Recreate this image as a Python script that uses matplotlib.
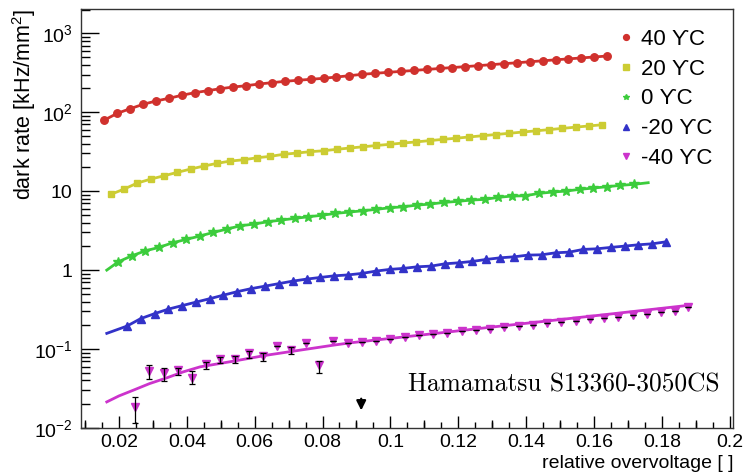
import numpy as np
import matplotlib
matplotlib.use("Agg")
import matplotlib.pyplot as plt
from matplotlib.ticker import FuncFormatter, LogLocator, NullFormatter, MultipleLocator

plt.rcParams["font.family"] = ["Liberation Sans", "DejaVu Sans"]
plt.rcParams["mathtext.fontset"] = "custom"
plt.rcParams["mathtext.rm"] = "Liberation Sans"
plt.rcParams["mathtext.it"] = "Liberation Sans:italic"

# データ (relative overvoltage, dark rate kHz/mm^2)
labels = ["40 ϒC", "20 ϒC", "0 ϒC", "-20 ϒC", "-40 ϒC"]
colors = ["#d0312d", "#cccc33", "#3ccc3c", "#3232c8", "#cc33cc"]

x_40 = [0.0157, 0.0195, 0.0233, 0.0271, 0.0309, 0.0347, 0.0385, 0.0423, 0.0461, 0.0499,
        0.0537, 0.0575, 0.0613, 0.0651, 0.0689, 0.0727, 0.0765, 0.0803, 0.0841, 0.0879,
        0.0917, 0.0955, 0.0993, 0.1031, 0.1069, 0.1107, 0.1145, 0.1183, 0.1221, 0.1259,
        0.1297, 0.1335, 0.1373, 0.1411, 0.1449, 0.1487, 0.1525, 0.1563, 0.1601, 0.1639]
y_40 = [79.6, 96.9, 110.8, 125.9, 138.7, 150, 163.8, 176.7, 187.3, 198.6,
        208.7, 216.7, 227.8, 236.6, 246.4, 253.7, 261.2, 269, 279.3, 290.1,
        302.2, 311, 320, 329, 338, 348, 358, 368, 378, 389,
        400, 412, 423, 436, 448, 461, 474, 487, 501, 515]

x_20 = [0.0176, 0.0215, 0.0254, 0.0294, 0.0333, 0.0372, 0.0411, 0.0450, 0.0489, 0.0528,
        0.0568, 0.0607, 0.0646, 0.0685, 0.0724, 0.0763, 0.0803, 0.0842, 0.0881, 0.0920,
        0.0959, 0.0998, 0.1037, 0.1077, 0.1116, 0.1155, 0.1194, 0.1233, 0.1272, 0.1311,
        0.1351, 0.1390, 0.1429, 0.1468, 0.1507, 0.1546, 0.1585, 0.1625]
y_20 = [9.11, 10.63, 12.67, 14.23, 15.68, 17.31, 19.06, 20.8, 22.5, 24.07,
        25.0, 26.5, 27.6, 29.3, 30.4, 31.6, 32.5, 33.9, 35.2, 36.5,
        37.9, 39.2, 40.7, 42.1, 43.7, 45.3, 46.9, 48.6, 50.4, 52.2,
        54.1, 56.1, 58.1, 60.2, 62.4, 64.7, 67.0, 69.4]

x_0 = [0.0198, 0.0238, 0.0278, 0.0318, 0.0358, 0.0398, 0.0438, 0.0478, 0.0518, 0.0558,
       0.0598, 0.0638, 0.0678, 0.0718, 0.0758, 0.0798, 0.0838, 0.0878, 0.0918, 0.0958,
       0.0998, 0.1038, 0.1078, 0.1118, 0.1158, 0.1198, 0.1238, 0.1278, 0.1318, 0.1358,
       0.1398, 0.1438, 0.1478, 0.1518, 0.1558, 0.1598, 0.1638, 0.1678, 0.1718]
y_0 = [1.274, 1.518, 1.756, 1.940, 2.218, 2.449, 2.697, 3.005, 3.308, 3.643,
       3.83, 4.095, 4.30, 4.52, 4.74, 4.95, 5.23, 5.43, 5.64, 5.88,
       6.16, 6.34, 6.66, 6.86, 7.21, 7.42, 7.71, 7.87, 8.35, 8.67,
       8.74, 9.38, 9.74, 10.03, 10.54, 10.95, 11.37, 11.85, 12.2]

x_m20 = [0.0223, 0.0264, 0.0305, 0.0345, 0.0386, 0.0427, 0.0468, 0.0508, 0.0549, 0.0590,
         0.0631, 0.0671, 0.0712, 0.0753, 0.0794, 0.0835, 0.0875, 0.0916, 0.0957, 0.0998,
         0.1038, 0.1079, 0.1120, 0.1161, 0.1201, 0.1242, 0.1283, 0.1324, 0.1365, 0.1405,
         0.1446, 0.1487, 0.1528, 0.1568, 0.1609, 0.1650, 0.1691, 0.1731, 0.1772, 0.1813]
y_m20 = [0.195, 0.243, 0.281, 0.320, 0.355, 0.393, 0.435, 0.482, 0.534, 0.583,
         0.627, 0.674, 0.725, 0.769, 0.808, 0.847, 0.869, 0.908, 0.971, 1.021,
         1.051, 1.101, 1.124, 1.202, 1.237, 1.289, 1.366, 1.432, 1.474, 1.549,
         1.563, 1.657, 1.691, 1.829, 1.862, 1.940, 2.015, 2.093, 2.154, 2.284]

x_m40 = [0.0247, 0.0289, 0.0333, 0.0374, 0.0416, 0.0457, 0.0498, 0.0541, 0.0583, 0.0624,
         0.0665, 0.0706, 0.0750, 0.0791, 0.0832, 0.0875, 0.0917, 0.0959, 0.1000, 0.1042,
         0.1084, 0.1126, 0.1168, 0.1210, 0.1252, 0.1294, 0.1336, 0.1378, 0.1420, 0.1462,
         0.1504, 0.1546, 0.1588, 0.1630, 0.1672, 0.1714, 0.1756, 0.1798, 0.1840, 0.1877]
y_m40 = [0.0185, 0.0529, 0.0499, 0.0540, 0.0432, 0.0644, 0.0745, 0.0752, 0.0879, 0.0812,
         0.1088, 0.0969, 0.1178, 0.0625, 0.1271, 0.1178, 0.122, 0.128, 0.134, 0.141,
         0.150, 0.155, 0.158, 0.170, 0.175, 0.178, 0.190, 0.195, 0.201, 0.215,
         0.220, 0.228, 0.240, 0.246, 0.258, 0.268, 0.280, 0.296, 0.305, 0.345]
err_lo_m40 = [0.0069, 0.0114, 0.0107, 0.0073, 0.0076, 0.0088, 0.0088, 0.0095, 0.0112, 0.0109,
              0, 0.0107, 0, 0.0126, 0, 0, 0, 0, 0, 0,
              0, 0, 0, 0, 0, 0, 0, 0, 0, 0,
              0, 0, 0, 0, 0, 0, 0, 0, 0, 0]
err_hi_m40 = [0.0063, 0.0096, 0.0069, 0.0038, 0.0088, 0.0045, 0.0051, 0.0060, 0.0070, 0.0067,
              0, 0.0079, 0, 0.0084, 0, 0, 0, 0, 0, 0,
              0, 0, 0, 0, 0, 0, 0, 0, 0, 0,
              0, 0, 0, 0, 0, 0, 0, 0, 0, 0]

# フィット曲線 (読み取り値)
fit_x_0 = [0.0164] + x_0 + [0.176]
fit_y_0 = [1.0] + y_0 + [12.8]
fit_x_m20 = [0.0164] + x_m20
fit_y_m20 = [0.158] + y_m20
fit_x_m40 = [0.0164, 0.0200, 0.0242, 0.0290, 0.0341, 0.0390, 0.0439, 0.0537, 0.0636, 0.0734,
             0.0832, 0.0881, 0.1088, 0.1324, 0.1619, 0.1884]
fit_y_m40 = [0.0214, 0.0255, 0.0301, 0.0365, 0.0432, 0.0515, 0.0595, 0.0702, 0.0837, 0.0969,
             0.1120, 0.1198, 0.1501, 0.1951, 0.2690, 0.3600]

arrow_x = 0.0914

fig = plt.figure(figsize=(7.43, 4.74), dpi=100)
ax = fig.add_axes([81 / 743, 1 - 428 / 474, 652 / 743, 419 / 474])

series = [
    (x_40, y_40, x_40, y_40, "o", 5.4),
    (x_20, y_20, x_20, y_20, "s", 3.9),
    (x_0, y_0, fit_x_0, fit_y_0, "*", 7),
    (x_m20, y_m20, fit_x_m20, fit_y_m20, "^", 5.5),
    (x_m40, y_m40, fit_x_m40, fit_y_m40, "v", 5.5),
]
handles = []
for (xs, ys, fx, fy, m, ms), c, lab in zip(series, colors, labels):
    ax.plot(fx, fy, "-", color=c, lw=2, zorder=2)
    ax.plot(xs, ys, m, color=c, ms=ms, mec=c, zorder=3)
    h, = ax.plot([], [], m, color=c, ms=4.2, mec=c, label=lab)
    handles.append(h)

ax.errorbar(x_m40, y_m40, yerr=[err_lo_m40, err_hi_m40], fmt="none",
            ecolor="black", elinewidth=0.9, capsize=2, capthick=0.9, zorder=4)

ax.set_yscale("log")
ax.set_xlim(0.0088, 0.2010)
ax.set_ylim(0.01, 2030)


# 軸の目盛り
def ylab(v, pos):
    e = int(round(np.log10(v)))
    if e == 0:
        return "1"
    if e == 1:
        return "10"
    return r"$10^{%d}$" % e


ax.yaxis.set_major_locator(LogLocator(base=10, numticks=10))
ax.yaxis.set_minor_locator(LogLocator(base=10, subs=range(2, 10), numticks=20))
ax.yaxis.set_major_formatter(FuncFormatter(ylab))
ax.yaxis.set_minor_formatter(NullFormatter())
ax.xaxis.set_major_locator(MultipleLocator(0.02))
ax.xaxis.set_minor_locator(MultipleLocator(0.005))
ax.xaxis.set_major_formatter(FuncFormatter(lambda v, p: ("%.2f" % v).rstrip("0").rstrip(".")))

ax.tick_params(axis="y", which="major", direction="in", length=13, width=1, labelsize=14, pad=6)
ax.tick_params(axis="y", which="minor", direction="in", length=6.5, width=1)
ax.tick_params(axis="x", which="major", direction="in", length=9, width=1, labelsize=14, pad=4)
ax.tick_params(axis="x", which="minor", direction="in", length=4, width=1)

sec = ax.secondary_xaxis("bottom")
sec.set_xticks([0.01 + 0.02 * i for i in range(10)])
sec.tick_params(direction="in", length=6, width=1, labelbottom=False)
sec.spines["bottom"].set_visible(False)

for s in ax.spines.values():
    s.set_linewidth(1)
    s.set_color("#333333")

ax.set_xlabel("relative overvoltage [ ]", fontsize=14, loc="right", labelpad=3)
ax.set_ylabel("dark rate [kHz/mm$^{2}$]", fontsize=15.5, loc="top")
ax.yaxis.set_label_coords(-0.087, 1.0)
ax.yaxis.label.set_va("center")

ax.legend(handles=handles, loc="upper left", bbox_to_anchor=(0.826, 0.953),
          frameon=False, fontsize=16, handlelength=0.6, handletextpad=0.38,
          labelspacing=0.4, borderpad=0, borderaxespad=0)

ax.text(0.98, 0.0883, "Hamamatsu S13360-3050CS", transform=ax.transAxes,
        ha="right", va="baseline", fontsize=18.3, family="cmr10")

ax.annotate("", xy=(arrow_x, 0.0154), xytext=(arrow_x, 0.0255),
            arrowprops=dict(arrowstyle="-|>", color="black", lw=1.6, mutation_scale=14))

fig.savefig("out.png", dpi=100)
